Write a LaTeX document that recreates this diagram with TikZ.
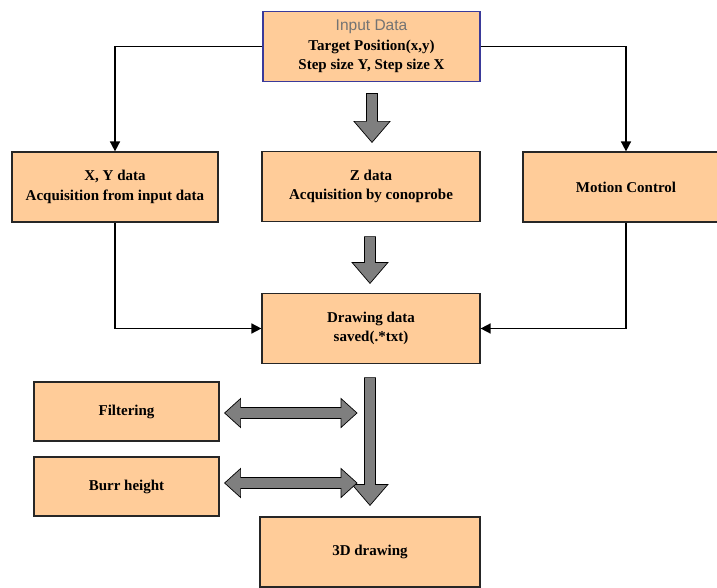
\documentclass[tikz,border=0pt]{standalone}
\usepackage{fontspec}
\setmainfont{Liberation Serif}
\newfontfamily\headfont{Liberation Sans}
\usetikzlibrary{positioning}
\usetikzlibrary{arrows.meta}
\usetikzlibrary{calc}
\usetikzlibrary{math}

\definecolor{boxfill}{HTML}{FFCC99}
\definecolor{topline}{HTML}{3A3A9A}
\definecolor{blockgray}{HTML}{7F7F7F}

\tikzset{
  stepbox/.style={draw=black!85, line width=1.2pt, fill=boxfill, align=center,
    font=\bfseries\fontsize{15}{19.5}\selectfont,
    minimum width=206pt, minimum height=70pt, inner sep=0pt},
  flow/.style={line width=1.6pt, -{Triangle[length=10pt,width=10pt]}},
  block/.style={draw=black, line width=0.7pt, fill=blockgray},
}

\begin{document}
\begin{tikzpicture}[x=1pt,y=-1pt]

  \tikzmath{
    \shaft   = 5.5;  % half width of the shaft of the grey arrows
    \head    = 18;   % half width of the head, down arrows
    \headlen = 21;   % length of the head, down arrows
    \dhead   = 14.5; % half width of the head, double arrows
    \dlen    = 16;   % length of the head, double arrows
  }

  \useasboundingbox (0,0) rectangle (717,588);

  % Boxes
  \node[stepbox, draw=topline, minimum width=217pt] (input) at (371.5,46.5)
    {{\headfont\mdseries\fontsize{15.5}{19.5}\selectfont\color{black!55}Input Data}\\Target Position(x,y)\\Step size Y, Step size X};
  \node[stepbox] (xydata) at (115,187) {X, Y data\\Acquisition from input data};
  \node[stepbox, minimum width=218pt] (zdata) at (371,186.5) {Z data\\Acquisition by conoprobe};
  \node[stepbox] (motion) at (626,187) {Motion Control};
  \node[stepbox, minimum width=218pt] (drawdata) at (371,328.5) {Drawing data\\saved(.*txt)};
  \node[stepbox, minimum width=185pt, minimum height=59pt] (filter) at (126.5,411.5) {Filtering};
  \node[stepbox, minimum width=185pt, minimum height=59pt] (burr) at (126.5,486.5) {Burr height};
  \node[stepbox, minimum width=220pt] (threed) at (370,552) {3D drawing};

  % Black connectors
  \draw[flow] (input.west) -| (xydata.north);
  \draw[flow] (input.east) -| (motion.north);
  \draw[flow] (xydata.south) |- (drawdata.west);
  \draw[flow] (motion.south) |- (drawdata.east);

  % Grey down arrows
  \coordinate (s1) at ($(input.south)+(0.5,11.5)$);
  \coordinate (t1) at ($(zdata.north)+(1,-8.5)$);
  \coordinate (s2) at ($(zdata.south)+(-1,14.5)$);
  \coordinate (t2) at ($(drawdata.north)+(-1,-9.5)$);
  \coordinate (s3) at ($(drawdata.south)+(-1,13.5)$);
  \coordinate (t3) at ($(threed.north)+(0,-11)$);

  \foreach \s/\t in {s1/t1, s2/t2, s3/t3}
    \draw[block] ($(\s)+(-\shaft,0)$) -- ($(\t)+(-\shaft,-\headlen)$)
      -- ($(\t)+(-\head,-\headlen)$) -- (\t) -- ($(\t)+(\head,-\headlen)$)
      -- ($(\t)+(\shaft,-\headlen)$) -- ($(\s)+(\shaft,0)$) -- cycle;

  % Grey double arrows
  \coordinate (l1) at ($(filter.east)+(5,1.5)$);
  \coordinate (r1) at ($(s3|-l1)+(-13,0)$);
  \coordinate (l2) at ($(burr.east)+(5,-3.5)$);
  \coordinate (r2) at ($(s3|-l2)+(-13,0)$);

  \foreach \l/\r in {l1/r1, l2/r2}
    \draw[block] (\l) -- ++(\dlen,-\dhead) -- ++(0,\dhead-\shaft)
      -- ($(\r)+(-\dlen,-\shaft)$) -- ++(0,\shaft-\dhead) -- (\r)
      -- ++(-\dlen,\dhead) -- ++(0,\shaft-\dhead) -- ($(\l)+(\dlen,\shaft)$)
      -- ++(0,\dhead-\shaft) -- cycle;

\end{tikzpicture}
\end{document}
